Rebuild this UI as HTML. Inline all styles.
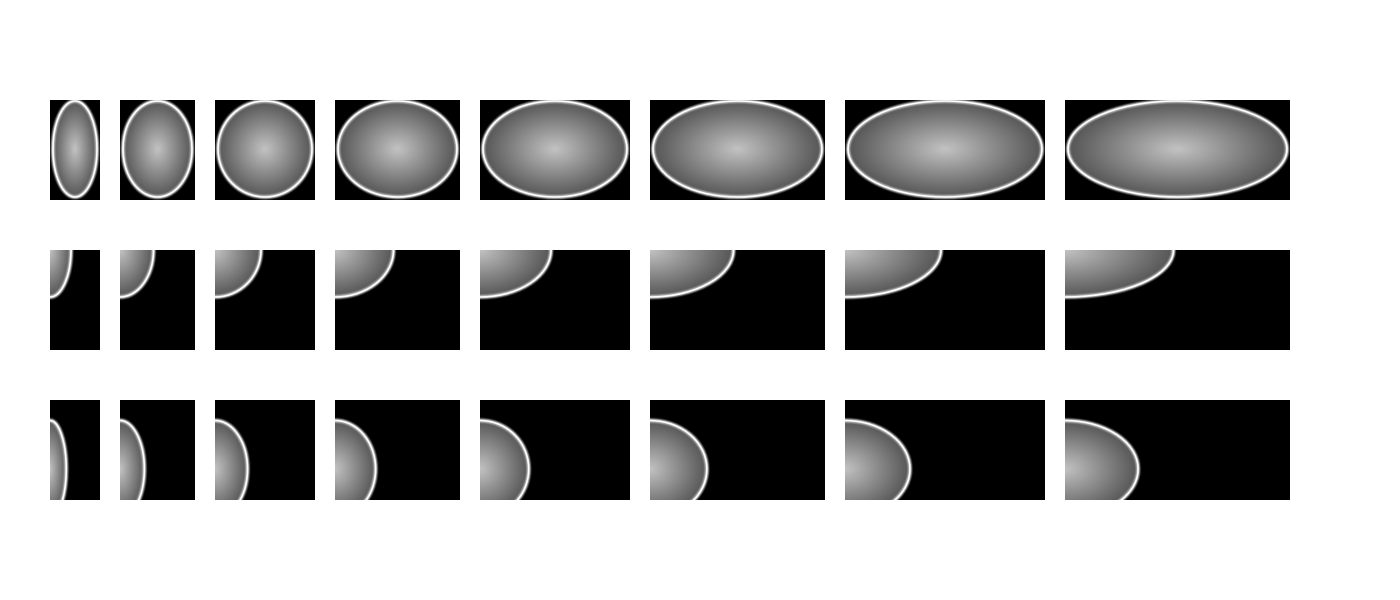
<!DOCTYPE html>
<html><head><meta charset="utf-8"><style>
html,body{margin:0;padding:0;background:#fff;width:1400px;height:600px;overflow:hidden}
svg{display:block}
</style></head><body>
<svg id="fig" width="1400" height="600" xmlns="http://www.w3.org/2000/svg">
<defs>
<radialGradient id="g" cx="0.5" cy="0.5" r="0.5">
<stop offset="0" stop-color="#c2c2c2"/>
<stop offset="1" stop-color="#555"/>
</radialGradient>
<filter id="blur" x="-10%" y="-10%" width="120%" height="120%"><feGaussianBlur stdDeviation="0.9"/></filter>
</defs>
</svg>
<script>
const widths = [50, 75, 100, 125, 150, 175, 200, 225];
const rowTops = [100, 250, 400];
const cellHeight = 100;
const gap = 20;
const left0 = 50;
const NS = 'http://www.w3.org/2000/svg';
const svg = document.getElementById('fig');
const defs = svg.querySelector('defs');
const rowNames = ['full-ellipse-row', 'corner-ellipse-row', 'edge-ellipse-row'];
let x = left0;
widths.forEach((w, ci) => {
  rowTops.forEach((top, ri) => {
    const h = cellHeight;
    const cid = 'c' + ri + '_' + ci;
    const cp = document.createElementNS(NS, 'clipPath');
    cp.setAttribute('id', cid);
    const cr = document.createElementNS(NS, 'rect');
    cr.setAttribute('x', x); cr.setAttribute('y', top);
    cr.setAttribute('width', w); cr.setAttribute('height', h);
    cp.appendChild(cr); defs.appendChild(cp);
    const g = document.createElementNS(NS, 'g');
    
    
    g.setAttribute('clip-path', 'url(#' + cid + ')');
    const bg = document.createElementNS(NS, 'rect');
    bg.setAttribute('x', x); bg.setAttribute('y', top);
    bg.setAttribute('width', w); bg.setAttribute('height', h);
    bg.setAttribute('fill', '#000');
    g.appendChild(bg);
    let cx, cy, rx, ry;
    if (ri === 0) { cx = x + w / 2; cy = top + 49; rx = w / 2 - 3; ry = 48; }
    else if (ri === 1) { cx = x; cy = top; rx = w / 2 - 4; ry = 47; }
    else { cx = x; cy = top + 69; rx = w * 0.325; ry = 48.5; }
    const e = document.createElementNS(NS, 'ellipse');
    e.setAttribute('cx', cx); e.setAttribute('cy', cy);
    e.setAttribute('rx', rx); e.setAttribute('ry', ry);
    e.setAttribute('fill', 'url(#g)');
    g.appendChild(e);
    const glow = document.createElementNS(NS, 'ellipse');
    glow.setAttribute('cx', cx); glow.setAttribute('cy', cy);
    glow.setAttribute('rx', rx); glow.setAttribute('ry', ry);
    glow.setAttribute('fill', 'none');
    glow.setAttribute('stroke', '#bbb');
    glow.setAttribute('stroke-width', '4');
    glow.setAttribute('filter', 'url(#blur)');
    g.appendChild(glow);
    const rim = document.createElementNS(NS, 'ellipse');
    rim.setAttribute('cx', cx); rim.setAttribute('cy', cy);
    rim.setAttribute('rx', rx); rim.setAttribute('ry', ry);
    rim.setAttribute('fill', 'none');
    rim.setAttribute('stroke', '#fff');
    rim.setAttribute('stroke-width', '1.6');
    g.appendChild(rim);
    svg.appendChild(g);
  });
  x += w + gap;
});
</script>
</body></html>
